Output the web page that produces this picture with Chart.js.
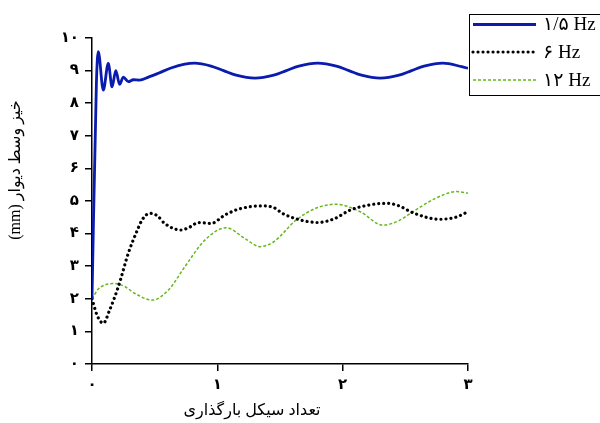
<!DOCTYPE html>
<html>
<head>
<meta charset="utf-8">
<script src="https://cdn.jsdelivr.net/npm/chart.js@4/dist/chart.umd.min.js"></script>
<style>
html,body{margin:0;padding:0;background:#fff;}
canvas{display:block;}
</style>
</head>
<body>
<canvas id="c" width="600" height="423"></canvas>
<script>
const seriesLabels = ['۱/۵ Hz', '۶ Hz', '۱۲ Hz'];
const xTickLabels = ['۰', '۱', '۲', '۳'];
const yTickLabels = ['۰', '۱', '۲', '۳', '۴', '۵', '۶', '۷', '۸', '۹', '۱۰'];
const xTitle = 'تعداد سیکل بارگذاری';
const yTitle = '(mm) خیز وسط دیوار';

const blueX = [0, 0.035, 0.05, 0.09, 0.13, 0.16, 0.19, 0.22, 0.25, 0.29, 0.33, 0.38, 0.45, 0.53, 0.63, 0.74, 0.82, 0.95, 1.05, 1.15, 1.3, 1.45, 1.55, 1.65, 1.8, 1.95, 2.05, 2.15, 2.3, 2.45, 2.55, 2.65, 2.8, 2.95, 3.0];
const blueY = [2, 8.6, 9.58, 8.4, 9.22, 8.5, 9.0, 8.58, 8.8, 8.66, 8.72, 8.71, 8.8, 8.92, 9.08, 9.2, 9.23, 9.14, 9.0, 8.86, 8.77, 8.86, 9.0, 9.14, 9.23, 9.14, 9.0, 8.86, 8.77, 8.86, 9.0, 9.14, 9.23, 9.12, 9.07];

const blackX = [0, 0.04, 0.09, 0.14, 0.21, 0.29, 0.35, 0.40, 0.46, 0.52, 0.58, 0.71, 0.78, 0.85, 0.95, 1.06, 1.17, 1.35, 1.45, 1.52, 1.66, 1.80, 1.93, 2.06, 2.2, 2.35, 2.45, 2.56, 2.77, 2.9, 3.0];
const blackY = [2, 1.5, 1.25, 1.65, 2.37, 3.4, 4.0, 4.42, 4.62, 4.55, 4.31, 4.11, 4.2, 4.34, 4.31, 4.57, 4.75, 4.85, 4.8, 4.62, 4.42, 4.34, 4.45, 4.72, 4.87, 4.93, 4.85, 4.64, 4.44, 4.5, 4.67];

const greenX = [0, 0.05, 0.10, 0.17, 0.26, 0.34, 0.48, 0.61, 0.74, 0.90, 1.07, 1.22, 1.34, 1.45, 1.63, 1.8, 1.95, 2.14, 2.32, 2.45, 2.56, 2.75, 2.91, 3.0];
const greenY = [2, 2.3, 2.42, 2.47, 2.38, 2.17, 1.96, 2.27, 2.98, 3.80, 4.18, 3.85, 3.60, 3.75, 4.42, 4.8, 4.90, 4.67, 4.26, 4.4, 4.67, 5.1, 5.29, 5.24];

const toPts = (xs, ys) => xs.map((x, i) => ({x: x, y: ys[i]}));

const FONT = '"Liberation Serif", "DejaVu Sans", serif';

const overlayPlugin = {
  id: 'overlay',
  afterDraw(chart) {
    const ctx = chart.ctx;
    const a = chart.chartArea;
    ctx.save();
    ctx.fillStyle = '#000';
    ctx.font = '16px ' + FONT;
    ctx.textAlign = 'center';
    ctx.textBaseline = 'middle';
    ctx.fillText(xTitle, a.left + 160, 411);
    ctx.save();
    ctx.translate(16, a.top + 132);
    ctx.rotate(-Math.PI / 2);
    ctx.fillText(yTitle, 0, 0);
    ctx.restore();
    ctx.fillStyle = '#fff';
    ctx.fillRect(469.5, 14.5, 140, 81);
    ctx.strokeStyle = '#000';
    ctx.lineWidth = 1;
    ctx.strokeRect(469.5, 14.5, 140, 81);
    const ys = [24.5, 52, 80];
    chart.data.datasets.forEach((ds, i) => {
      ctx.save();
      ctx.strokeStyle = ds.borderColor;
      ctx.lineWidth = ds.borderWidth;
      ctx.lineCap = ds.borderCapStyle || 'butt';
      ctx.setLineDash(ds.borderDash || []);
      ctx.beginPath();
      ctx.moveTo(473, ys[i]);
      ctx.lineTo(536, ys[i]);
      ctx.stroke();
      ctx.restore();
      ctx.fillStyle = '#000';
      ctx.font = '19px ' + FONT;
      ctx.textAlign = 'left';
      ctx.textBaseline = 'middle';
      ctx.fillText(ds.label, 543, ys[i] + 1);
    });
    ctx.restore();
  }
};

new Chart(document.getElementById('c'), {
  type: 'line',
  data: {
    datasets: [
      {label: seriesLabels[0], data: toPts(blueX, blueY), borderColor: '#0a1cad', borderWidth: 2.8, pointRadius: 0, cubicInterpolationMode: 'monotone', fill: false},
      {label: seriesLabels[1], data: toPts(blackX, blackY), borderColor: '#000000', borderWidth: 3.2, borderDash: [0.01, 5], borderCapStyle: 'round', pointRadius: 0, cubicInterpolationMode: 'monotone', fill: false},
      {label: seriesLabels[2], data: toPts(greenX, greenY), borderColor: '#66b81e', borderWidth: 1.5, borderDash: [3, 2], pointRadius: 0, cubicInterpolationMode: 'monotone', fill: false}
    ]
  },
  options: {
    responsive: false,
    animation: false,
    devicePixelRatio: 1,
    layout: {padding: {top: 38, right: 132, left: 0, bottom: 0}},
    plugins: {legend: {display: false}, tooltip: {enabled: false}},
    scales: {
      x: {
        type: 'linear', min: 0, max: 3,
        afterFit(s) { s.height = 59; },
        grid: {display: true, drawOnChartArea: false, drawTicks: true, tickLength: 7, color: '#000', lineWidth: 1.5},
        border: {display: true, color: '#000', width: 1.5},
        ticks: {stepSize: 1, padding: 5, color: '#000', font: {size: 15, weight: 'bold', family: FONT}, maxRotation: 0,
          callback: (v) => xTickLabels[v]}
      },
      y: {
        min: 0, max: 10,
        afterFit(s) { s.width = 92; },
        grid: {display: true, drawOnChartArea: false, drawTicks: true, tickLength: 7, color: '#000', lineWidth: 1.5},
        border: {display: true, color: '#000', width: 1.5},
        ticks: {stepSize: 1, padding: 6, color: '#000', font: {size: 15, weight: 'bold', family: FONT},
          callback: (v) => yTickLabels[v]}
      }
    }
  },
  plugins: [overlayPlugin]
});
</script>
</body>
</html>
